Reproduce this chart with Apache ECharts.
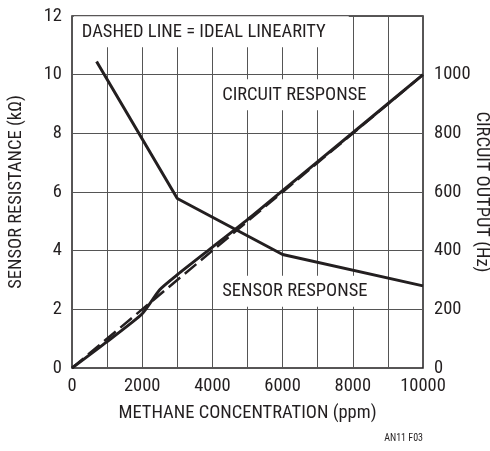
<!DOCTYPE html>
<html>
<head>
<meta charset="utf-8">
<script src="https://cdn.jsdelivr.net/npm/echarts@6/dist/echarts.min.js"></script>
<style>
  html, body { margin: 0; padding: 0; background: #fff; }
  #chart { width: 490px; height: 451px; }
</style>
</head>
<body>
<div id="chart"></div>
<script>
// methane concentration (ppm) vs sensor resistance (kOhm), left axis
const sensorPoints = [[700, 10.45], [3000, 5.78], [6000, 3.87], [10000, 2.8]]
// circuit output (Hz), right axis
const circuitPoints = [[0, 0], [1000, 90], [2000, 185], [2500, 267], [3000, 318], [4000, 412], [5000, 506], [6000, 605], [8000, 802], [10000, 1000]]
// ideal linearity, right axis
const idealPoints = [[0, 0], [10000, 1000]]

const xTicks = { min: 0, max: 10000, interval: 2000 }
const leftTicks = { min: 0, max: 12, interval: 2 }
const rightTicks = { min: 0, max: 1200, interval: 200 }

// annotation text anchors in data units [x, left-axis y]
const notes = [
  { text: 'DASHED LINE = IDEAL LINEARITY', at: [50, 11.45], w: 275 },
  { text: 'CIRCUIT RESPONSE', at: [4050, 9.3], w: 168 },
  { text: 'SENSOR RESPONSE', at: [4050, 2.6], w: 165 }
]

const ink = '#231f20'
const font = "'Liberation Sans Narrow', 'Arial Narrow', 'Roboto Condensed', sans-serif"
const fs = 18.5

const nameStyle = { fontFamily: font, fontSize: fs, color: ink, align: 'center', verticalAlign: 'middle' }

const chart = echarts.init(document.getElementById('chart'))
chart.setOption({
  animation: false,
  textStyle: { fontFamily: font, color: ink },
  grid: {
    left: 72, top: 16, right: 67, bottom: 83,
    outerBoundsMode: 'none',
    containLabel: false,
    show: true, borderColor: ink, borderWidth: 1.5
  },
  xAxis: {
    type: 'value',
    min: xTicks.min, max: xTicks.max, interval: xTicks.interval,
    name: 'METHANE CONCENTRATION (ppm)',
    nameLocation: 'middle', nameGap: 45, nameMoveOverlap: false,
    nameTextStyle: nameStyle,
    axisLine: { show: false },
    axisTick: { show: false },
    axisLabel: { margin: 9, fontFamily: font, fontSize: fs, color: ink, formatter: v => String(v) },
    splitLine: { show: true, lineStyle: { color: '#555', width: 1 } },
    minorTick: { show: false, splitNumber: 2 },
    minorSplitLine: { show: true, lineStyle: { color: '#555', width: 1 } }
  },
  yAxis: [
    {
      type: 'value',
      min: leftTicks.min, max: leftTicks.max, interval: leftTicks.interval,
      name: 'SENSOR RESISTANCE (kΩ)',
      nameLocation: 'middle', nameGap: 56, nameRotate: 90, nameMoveOverlap: false,
      nameTextStyle: nameStyle,
      axisLine: { show: false },
      axisTick: { show: false },
      axisLabel: { margin: 10, fontFamily: font, fontSize: fs, color: ink },
      splitLine: { show: true, lineStyle: { color: '#555', width: 1 } }
    },
    {
      type: 'value',
      position: 'right',
      min: rightTicks.min, max: rightTicks.max, interval: rightTicks.interval,
      name: 'CIRCUIT OUTPUT (Hz)',
      nameLocation: 'middle', nameGap: 59, nameRotate: -90, nameMoveOverlap: false,
      nameTextStyle: nameStyle,
      axisLine: { show: false },
      axisTick: { show: false },
      axisLabel: {
        margin: 11, fontFamily: font, fontSize: fs, color: ink,
        formatter: v => (v === rightTicks.max ? '' : String(v))
      },
      splitLine: { show: false }
    }
  ],
  series: [
    {
      name: 'ideal',
      type: 'line',
      yAxisIndex: 1,
      data: idealPoints,
      symbol: 'none',
      lineStyle: { color: ink, width: 2.5, type: [15, 6] },
      z: 3
    },
    {
      name: 'circuit',
      type: 'line',
      yAxisIndex: 1,
      data: circuitPoints,
      symbol: 'none',
      smooth: 0.2,
      lineStyle: { color: ink, width: 3 },
      z: 4
    },
    {
      name: 'sensor',
      type: 'line',
      yAxisIndex: 0,
      data: sensorPoints,
      symbol: 'none',
      lineStyle: { color: ink, width: 3 },
      z: 4
    }
  ]
})

// place annotation boxes from data coordinates
const graphics = notes.map(n => {
  const p = chart.convertToPixel({ xAxisIndex: 0, yAxisIndex: 0 }, n.at)
  return {
    type: 'group',
    x: p[0], y: p[1],
    z: 10,
    children: [
      { type: 'rect', shape: { x: 0, y: -16, width: n.w, height: 31 }, style: { fill: '#fff' } },
      {
        type: 'text',
        x: 8, y: 0,
        style: { text: n.text, fontFamily: font, fontSize: fs, fill: ink, verticalAlign: 'middle' }
      }
    ]
  }
})
graphics.push({
  type: 'text', right: 67, bottom: 8,
  style: { text: 'AN11 F03', fontFamily: font, fontSize: 10, fill: ink }
})
chart.setOption({ graphic: graphics })
</script>
</body>
</html>
